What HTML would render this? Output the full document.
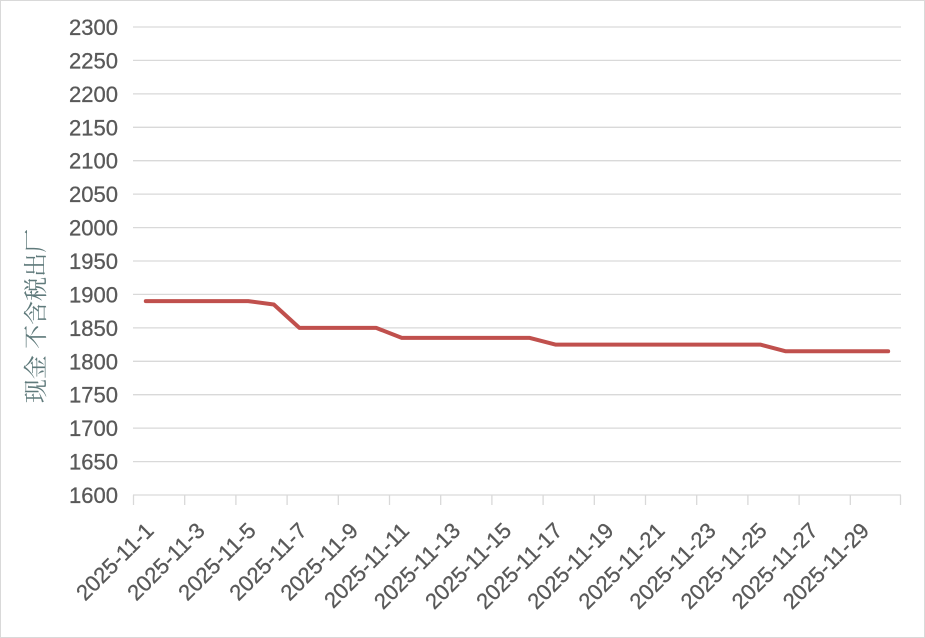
<!DOCTYPE html>
<html><head><meta charset="utf-8"><style>
html,body{margin:0;padding:0;background:#fff}
svg{display:block}
</style></head><body>
<svg width="925" height="638" xmlns="http://www.w3.org/2000/svg">
<rect x="0.5" y="0.5" width="924" height="637" fill="#fff" stroke="#d9d9d9"/>
<g stroke="#d9d9d9" stroke-width="1.3">
<line x1="133" x2="901" y1="27" y2="27"/><line x1="133" x2="901" y1="60.4" y2="60.4"/><line x1="133" x2="901" y1="93.9" y2="93.9"/><line x1="133" x2="901" y1="127.3" y2="127.3"/><line x1="133" x2="901" y1="160.7" y2="160.7"/><line x1="133" x2="901" y1="194.1" y2="194.1"/><line x1="133" x2="901" y1="227.6" y2="227.6"/><line x1="133" x2="901" y1="261" y2="261"/><line x1="133" x2="901" y1="294.4" y2="294.4"/><line x1="133" x2="901" y1="327.9" y2="327.9"/><line x1="133" x2="901" y1="361.3" y2="361.3"/><line x1="133" x2="901" y1="394.7" y2="394.7"/><line x1="133" x2="901" y1="428.1" y2="428.1"/><line x1="133" x2="901" y1="461.6" y2="461.6"/>
<line x1="133" x2="901" y1="495" y2="495"/>
<line x1="133.5" x2="133.5" y1="495" y2="505"/><line x1="184.7" x2="184.7" y1="495" y2="505"/><line x1="235.9" x2="235.9" y1="495" y2="505"/><line x1="287.1" x2="287.1" y1="495" y2="505"/><line x1="338.3" x2="338.3" y1="495" y2="505"/><line x1="389.5" x2="389.5" y1="495" y2="505"/><line x1="440.7" x2="440.7" y1="495" y2="505"/><line x1="491.9" x2="491.9" y1="495" y2="505"/><line x1="543.1" x2="543.1" y1="495" y2="505"/><line x1="594.3" x2="594.3" y1="495" y2="505"/><line x1="645.5" x2="645.5" y1="495" y2="505"/><line x1="696.7" x2="696.7" y1="495" y2="505"/><line x1="747.9" x2="747.9" y1="495" y2="505"/><line x1="799.1" x2="799.1" y1="495" y2="505"/><line x1="850.3" x2="850.3" y1="495" y2="505"/><line x1="900.5" x2="900.5" y1="495" y2="505"/>
</g>
<g font-family="Liberation Sans, sans-serif" font-size="22" fill="#595959" text-anchor="end" stroke="#595959" stroke-width="0.3">
<text x="118" y="35">2300</text><text x="118" y="68.4">2250</text><text x="118" y="101.9">2200</text><text x="118" y="135.3">2150</text><text x="118" y="168.7">2100</text><text x="118" y="202.1">2050</text><text x="118" y="235.6">2000</text><text x="118" y="269">1950</text><text x="118" y="302.4">1900</text><text x="118" y="335.9">1850</text><text x="118" y="369.3">1800</text><text x="118" y="402.7">1750</text><text x="118" y="436.1">1700</text><text x="118" y="469.6">1650</text><text x="118" y="503">1600</text>
</g>
<text transform="translate(44,316) rotate(-90)" text-anchor="middle" font-family="Noto Serif CJK SC, serif" font-size="24" fill="#5f7a7b">现金 不含税出厂</text>
<g font-family="Liberation Sans, sans-serif" font-size="22" fill="#595959" text-anchor="end" stroke="#595959" stroke-width="0.3">
<text transform="translate(155,532) rotate(-45)">2025-11-1</text>
<text transform="translate(206.1,532) rotate(-45)">2025-11-3</text>
<text transform="translate(257.2,532) rotate(-45)">2025-11-5</text>
<text transform="translate(308.3,532) rotate(-45)">2025-11-7</text>
<text transform="translate(359.4,532) rotate(-45)">2025-11-9</text>
<text transform="translate(410.5,532) rotate(-45)">2025-11-11</text>
<text transform="translate(461.6,532) rotate(-45)">2025-11-13</text>
<text transform="translate(512.7,532) rotate(-45)">2025-11-15</text>
<text transform="translate(563.8,532) rotate(-45)">2025-11-17</text>
<text transform="translate(614.9,532) rotate(-45)">2025-11-19</text>
<text transform="translate(666,532) rotate(-45)">2025-11-21</text>
<text transform="translate(717.1,532) rotate(-45)">2025-11-23</text>
<text transform="translate(768.2,532) rotate(-45)">2025-11-25</text>
<text transform="translate(819.3,532) rotate(-45)">2025-11-27</text>
<text transform="translate(870.4,532) rotate(-45)">2025-11-29</text>
</g>
<polyline fill="none" stroke="#c0504d" stroke-width="4" stroke-linejoin="round" stroke-linecap="round"
points="145.8,301.1 248.2,301.1 273.8,304.5 299.4,327.9 376.2,327.9 401.8,337.9 529.8,337.9 555.4,344.6 760.2,344.6 785.8,351.3 888.2,351.3"/>
</svg>
</body></html>
